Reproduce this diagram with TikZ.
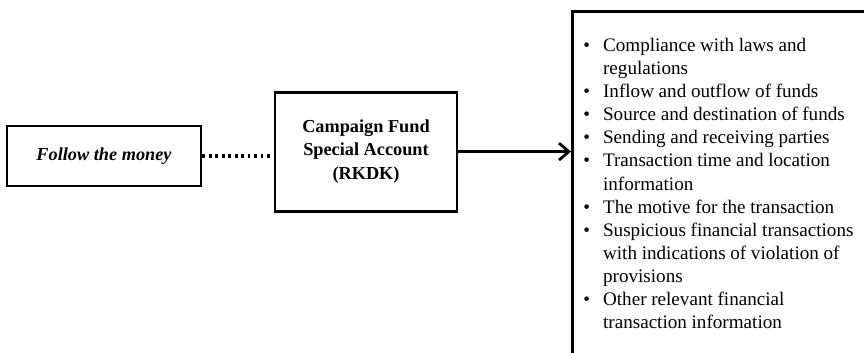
\documentclass[tikz,border=0pt]{standalone}
\usepackage{fontspec}
\setmainfont{Liberation Serif}
\usetikzlibrary{positioning,arrows.meta}
\begin{document}
\begin{tikzpicture}[flowbox/.style={draw,line width=2pt,align=center,inner sep=0pt},
	infobox/.style={draw,line width=2pt,anchor=north west,minimum width=8cm,minimum height=8.7cm,text width=7.45cm,align=left,inner sep=0pt}]
	\clip (0,0) rectangle (21.6,8.8);
	\node[flowbox,minimum width=4.85cm,minimum height=1.5cm,font=\fontsize{13}{16}\selectfont\bfseries\itshape] (follow) at (2.6,4.9) {Follow the money};
	\node[flowbox,minimum width=4.55cm,minimum height=2.975cm,font=\fontsize{13}{16.8}\selectfont\bfseries] (rkdk) at (9.15,5.01) {Campaign Fund\\Special Account\\(RKDK)};
	\node[infobox] (info) at (14.275,8.55) {\fontsize{13.6}{16.4}\selectfont
		\begin{tabular}{@{}p{14pt}@{}l@{}}
			\textbullet & Compliance with laws and\\
			& regulations\\
			\textbullet & Inflow and outflow of funds\\
			\textbullet & Source and destination of funds\\
			\textbullet & Sending and receiving parties\\
			\textbullet & Transaction time and location\\
			& information\\
			\textbullet & The motive for the transaction\\
			\textbullet & Suspicious financial transactions\\
			& with indications of violation of\\
			& provisions\\
			\textbullet & Other relevant financial\\
			& transaction information
	\end{tabular}};
	\draw[line width=2.2pt,dash pattern=on 2pt off 2.6pt] (follow.east) -- (follow.east -| rkdk.west);
	\draw[line width=2pt,-{Straight Barb[length=7pt,width=12pt]}] (rkdk.east) -- (rkdk.east -| info.west);
	%	\draw[red] (0,0) grid (21.6,8.8);
\end{tikzpicture}
\end{document}
